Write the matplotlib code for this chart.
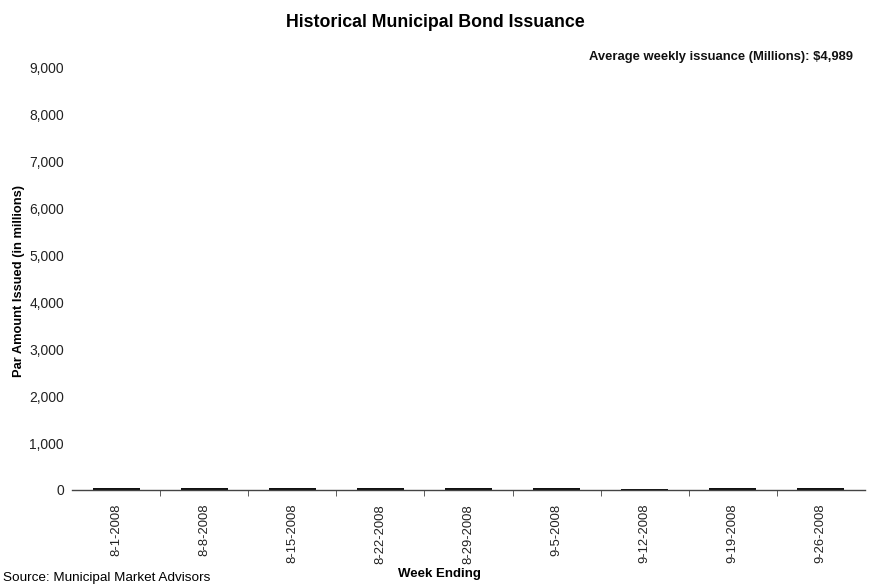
import matplotlib
matplotlib.use("Agg")
from matplotlib import pyplot as plt

plt.rcParams['font.family'] = ['Liberation Sans', 'DejaVu Sans']

weeks = ["8-1-2008", "8-8-2008", "8-15-2008", "8-22-2008", "8-29-2008",
         "9-5-2008", "9-12-2008", "9-19-2008", "9-26-2008"]
# bars in the scan are almost flat on the axis
issuance = [45, 35, 40, 40, 30, 40, 25, 35, 40]
yticks = [0, 1000, 2000, 3000, 4000, 5000, 6000, 7000, 8000, 9000]

fig = plt.figure(figsize=(8.7, 5.86), dpi=100)
ax = fig.add_axes([0.083, 0.164, 0.911, 0.720])

x = list(range(len(weeks)))
ax.bar(x, issuance, width=0.53, color="#111111")

ax.set_xlim(-0.5, len(weeks) - 0.5)
ax.set_ylim(0, 9000)
ax.set_yticks(yticks)
ax.set_yticklabels(["{:,}".format(v) for v in yticks], fontsize=10, color="#222222")
ax.set_xticks(x)
ax.set_xticklabels(weeks, rotation=90, fontsize=9.4, color="#222222")
ax.tick_params(axis="x", length=0, pad=10)
ax.tick_params(axis="y", length=0, pad=6)
# tick marks between categories
ax.set_xticks([i + 0.5 for i in x[:-1]], minor=True)
ax.tick_params(axis="x", which="minor", length=4, direction="out", color="#444444")

for s in ["top", "right", "left"]:
    ax.spines[s].set_visible(False)
ax.spines["bottom"].set_color("#444444")
ax.spines["bottom"].set_linewidth(1.0)

fig.text(0.5, 0.962, "Historical Municipal Bond Issuance", ha="center", va="center",
         fontsize=12.8, fontweight="bold")
fig.text(0.981, 0.903, "Average weekly issuance (Millions): $4,989", ha="right",
         va="center", fontsize=9.4, fontweight="bold", color="#111111")
fig.text(0.022, 0.52, "Par Amount Issued (in millions)", rotation=90, ha="center",
         va="center", fontsize=9.3, fontweight="bold")
fig.text(0.505, 0.021, "Week Ending", ha="center", va="center", fontsize=9.5,
         fontweight="bold")
fig.text(0.003, 0.004, "Source: Municipal Market Advisors", ha="left", va="bottom",
         fontsize=9.7)

fig.savefig("out.png", dpi=100)
